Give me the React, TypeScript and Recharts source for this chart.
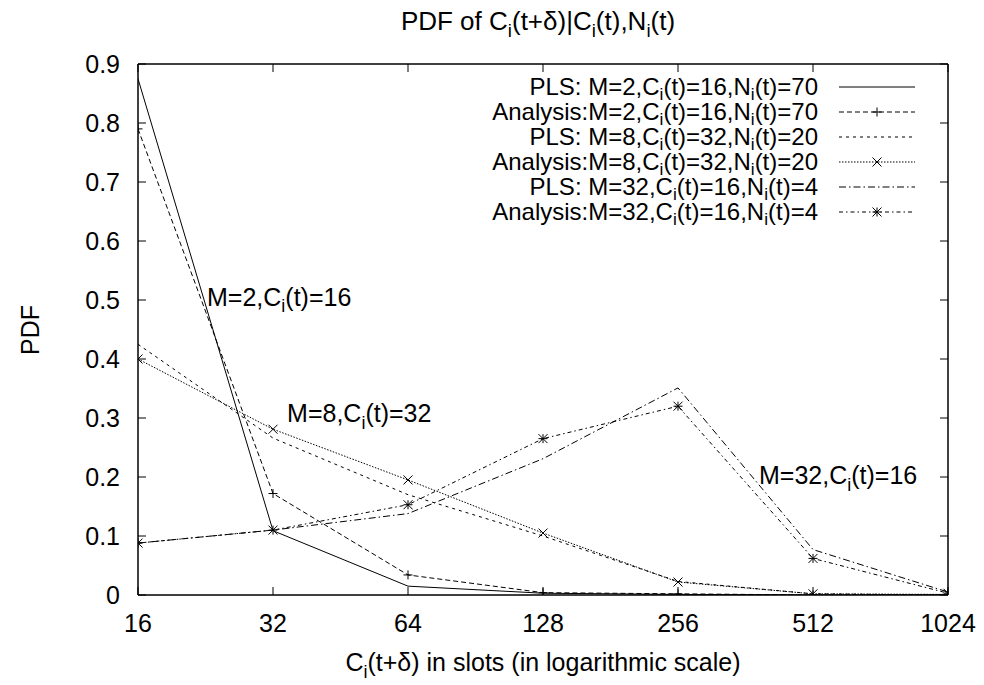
import { LineChart, Line, XAxis, YAxis, ReferenceDot } from 'recharts';

const W = 984;
const H = 685;
const FONT = '"Liberation Sans", Arial, Helvetica, sans-serif';
const FS = 25;

// x: C_i(t+δ) in slots
const slots = [16, 32, 64, 128, 256, 512, 1024];
const yTicks = [0, 0.1, 0.2, 0.3, 0.4, 0.5, 0.6, 0.7, 0.8, 0.9];

// values
const plsM2 = [0.875, 0.109, 0.015, 0.003, 0.001, 0, 0];
const anaM2 = [0.79, 0.172, 0.034, 0.004, 0.002, 0, 0];
const plsM8 = [0.425, 0.266, 0.17, 0.1, 0.023, 0.002, 0];
const anaM8 = [0.4, 0.281, 0.195, 0.105, 0.022, 0.002, 0.001];
const plsM32 = [0.088, 0.11, 0.138, 0.231, 0.351, 0.077, 0.005];
const anaM32 = [0.088, 0.11, 0.153, 0.265, 0.32, 0.062, 0.003];

const legendNames = [
  'PLS: M=2,C_i(t)=16,N_i(t)=70',
  'Analysis:M=2,C_i(t)=16,N_i(t)=70',
  'PLS: M=8,C_i(t)=32,N_i(t)=20',
  'Analysis:M=8,C_i(t)=32,N_i(t)=20',
  'PLS: M=32,C_i(t)=16,N_i(t)=4',
  'Analysis:M=32,C_i(t)=16,N_i(t)=4',
];

// curve labels, placed in data coordinates (left/baseline)
const notes = [
  { text: 'M=2,C_i(t)=16', x: 22.8, y: 0.49 },
  { text: 'M=8,C_i(t)=32', x: 34.4, y: 0.293 },
  { text: 'M=32,C_i(t)=16', x: 388, y: 0.188 },
];

type MarkerKind = 'none' | 'plus' | 'cross' | 'star';

const series: { key: string; values: number[]; dash?: string; marker: MarkerKind }[] = [
  { key: 'plsM2', values: plsM2, dash: undefined, marker: 'none' },
  { key: 'anaM2', values: anaM2, dash: '5 3', marker: 'plus' },
  { key: 'plsM8', values: plsM8, dash: '3 4', marker: 'none' },
  { key: 'anaM8', values: anaM8, dash: '1.5 1.5', marker: 'cross' },
  { key: 'plsM32', values: plsM32, dash: '7 3 1.5 3', marker: 'none' },
  { key: 'anaM32', values: anaM32, dash: '4 3 1.5 3', marker: 'star' },
];

const rows = slots.map((x, i) => {
  const row: Record<string, number> = { x };
  series.forEach((s) => {
    row[s.key] = s.values[i];
  });
  return row;
});

// text with "_i" subscripts
function Rich({ text, size, shiftRatio = 0.26 }: { text: string; size: number; shiftRatio?: number }) {
  const parts = text.split('_i');
  const shift = size * shiftRatio;
  return (
    <>
      {parts.map((p, k) =>
        k === 0 ? (
          <tspan key={k}>{p}</tspan>
        ) : (
          [
            <tspan key={`s${k}`} dy={shift} fontSize={size * 0.72}>
              i
            </tspan>,
            <tspan key={`p${k}`} dy={-shift}>
              {p}
            </tspan>,
          ]
        )
      )}
    </>
  );
}

function Marker({ cx, cy, kind }: { cx: number; cy: number; kind: MarkerKind }) {
  const r = 4.5;
  if (kind === 'none') return <g />;
  const plus = `M${cx - r},${cy}H${cx + r}M${cx},${cy - r}V${cy + r}`;
  const cross = `M${cx - r},${cy - r}L${cx + r},${cy + r}M${cx - r},${cy + r}L${cx + r},${cy - r}`;
  const d = kind === 'plus' ? plus : kind === 'cross' ? cross : plus + cross;
  return <path d={d} stroke="#000" strokeWidth={1} fill="none" />;
}

const axisLine = { stroke: '#000', strokeWidth: 1.5 };

function BottomTick(props: any) {
  const { x, y, payload } = props;
  return (
    <g>
      <line x1={x} x2={x} y1={y} y2={y - 8} stroke="#000" />
      <text x={x} y={y + 37} textAnchor="middle" fontSize={FS} fontFamily={FONT} fill="#000">
        {payload.value}
      </text>
    </g>
  );
}

function TopTick(props: any) {
  const { x, y } = props;
  return <line x1={x} x2={x} y1={y} y2={y + 8} stroke="#000" />;
}

function LeftTick(props: any) {
  const { x, y, payload } = props;
  const v = payload.value as number;
  return (
    <g>
      <line x1={x} x2={x + 8} y1={y} y2={y} stroke="#000" />
      <text x={x - 18} y={y + 9} textAnchor="end" fontSize={FS} fontFamily={FONT} fill="#000">
        {v === 0 ? '0' : v.toFixed(1)}
      </text>
    </g>
  );
}

function RightTick(props: any) {
  const { x, y } = props;
  return <line x1={x} x2={x - 8} y1={y} y2={y} stroke="#000" />;
}

function Legend() {
  const top = 87;
  const step = 25;
  const fs = 24;
  return (
    <g>
      {series.map((s, i) => {
        const cy = top + i * step;
        return (
          <g key={s.key}>
            <text x={818} y={cy + 8} textAnchor="end" fontSize={fs} fontFamily={FONT} fill="#000">
              <Rich text={legendNames[i]} size={fs} shiftRatio={0.2} />
            </text>
            <line x1={839} x2={915} y1={cy} y2={cy} stroke="#000" strokeDasharray={s.dash} />
            <Marker cx={877} cy={cy} kind={s.marker} />
          </g>
        );
      })}
    </g>
  );
}

export default function App() {
  return (
    <div style={{ position: 'absolute', left: 0, top: 0, width: W, height: H, background: '#fff' }}>
      <LineChart
        width={W}
        height={H}
        data={rows}
        margin={{ top: 54, right: 26, bottom: 30, left: 38 }}
      >
        <XAxis
          xAxisId="b"
          dataKey="x"
          type="number"
          scale="log"
          domain={[16, 1024]}
          ticks={slots}
          interval={0}
          orientation="bottom"
          height={60}
          axisLine={axisLine}
          tickLine={false}
          tickSize={0}
          tickMargin={0}
          tick={(p: any) => <BottomTick {...p} />}
          allowDataOverflow
        />
        <XAxis
          xAxisId="t"
          dataKey="x"
          type="number"
          scale="log"
          domain={[16, 1024]}
          ticks={slots}
          interval={0}
          orientation="top"
          height={10}
          axisLine={axisLine}
          tickLine={false}
          tickSize={0}
          tickMargin={0}
          tick={(p: any) => <TopTick {...p} />}
          allowDataOverflow
        />
        <YAxis
          yAxisId="l"
          type="number"
          domain={[0, 0.9]}
          ticks={yTicks}
          interval={0}
          orientation="left"
          width={100}
          axisLine={axisLine}
          tickLine={false}
          tickSize={0}
          tickMargin={0}
          tick={(p: any) => <LeftTick {...p} />}
          allowDataOverflow
        />
        <YAxis
          yAxisId="r"
          type="number"
          domain={[0, 0.9]}
          ticks={yTicks}
          interval={0}
          orientation="right"
          width={10}
          axisLine={axisLine}
          tickLine={false}
          tickSize={0}
          tickMargin={0}
          tick={(p: any) => <RightTick {...p} />}
          allowDataOverflow
        />
        {series.map((s) => (
          <Line
            key={s.key}
            xAxisId="b"
            yAxisId="l"
            type="linear"
            dataKey={s.key}
            stroke="#000"
            strokeWidth={1}
            strokeDasharray={s.dash}
            isAnimationActive={false}
            activeDot={false}
            dot={(p: any) => <Marker key={`${s.key}-${p.index}`} cx={p.cx} cy={p.cy} kind={s.marker} />}
          />
        ))}
        {notes.map((n) => (
          <ReferenceDot
            key={n.text}
            xAxisId="b"
            yAxisId="l"
            x={n.x}
            y={n.y}
            r={0}
            shape={(p: any) => (
              <text x={p.cx} y={p.cy} fontSize={FS} fontFamily={FONT} fill="#000">
                <Rich text={n.text} size={FS} />
              </text>
            )}
          />
        ))}
      </LineChart>
      <svg
        width={W}
        height={H}
        style={{ position: 'absolute', left: 0, top: 0, pointerEvents: 'none' }}
      >
        <text x={538} y={30} textAnchor="middle" fontSize={26} fontFamily={FONT} fill="#000">
          <Rich text="PDF of C_i(t+δ)|C_i(t),N_i(t)" size={26} />
        </text>
        <text x={543} y={671} textAnchor="middle" fontSize={FS} fontFamily={FONT} fill="#000">
          <Rich text="C_i(t+δ) in slots (in logarithmic scale)" size={FS} />
        </text>
        <text
          x={0}
          y={0}
          transform="translate(39,330) rotate(-90)"
          textAnchor="middle"
          fontSize={FS}
          fontFamily={FONT}
          fill="#000"
        >
          PDF
        </text>
        <Legend />
      </svg>
    </div>
  );
}
